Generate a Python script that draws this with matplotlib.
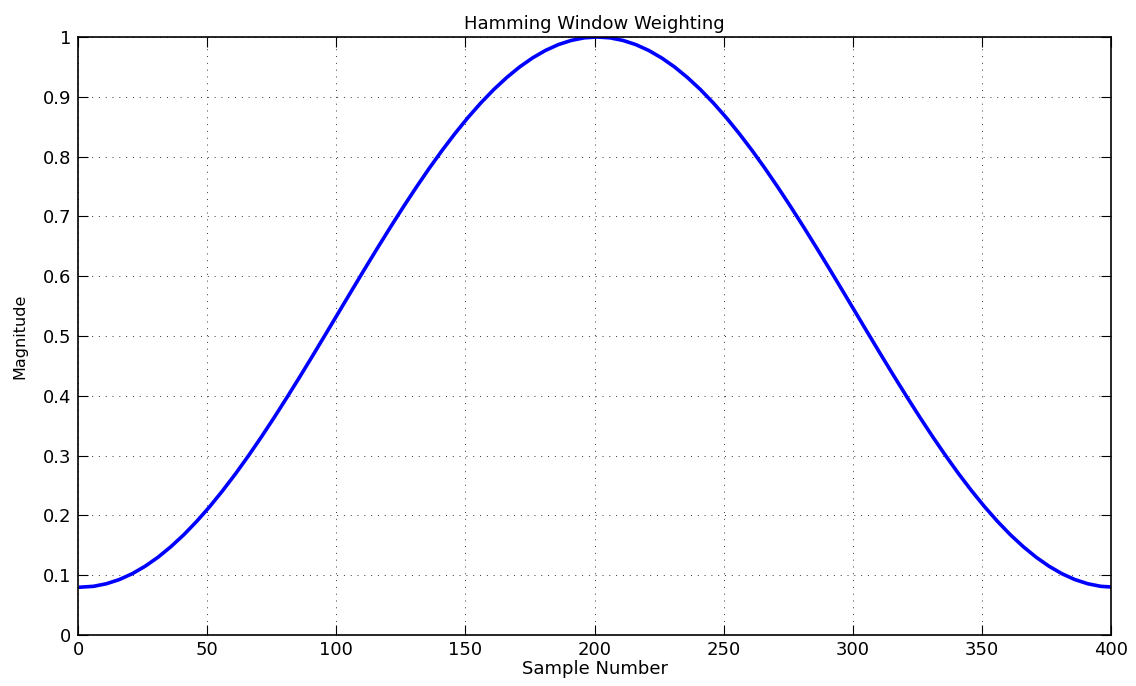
import matplotlib
matplotlib.use("Agg")
import matplotlib.pyplot as plt

# Sample positions (every 5 samples) and window magnitude
samples = list(range(1, 402, 5))
half = [0.0800, 0.0814, 0.0857, 0.0927, 0.1025, 0.1150, 0.1301, 0.1478,
        0.1678, 0.1902, 0.2147, 0.2413, 0.2696, 0.2997, 0.3312, 0.3640,
        0.3979, 0.4326, 0.4680, 0.5039, 0.5400, 0.5761, 0.6120, 0.6474,
        0.6821, 0.7160, 0.7488, 0.7804, 0.8104, 0.8387, 0.8653, 0.8898,
        0.9122, 0.9322, 0.9499, 0.9650, 0.9775, 0.9873, 0.9943, 0.9986]
magnitude = half + [1.0000] + half[::-1]

xticks = [0, 50, 100, 150, 200, 250, 300, 350, 400]
yticks = [0, 0.1, 0.2, 0.3, 0.4, 0.5, 0.6, 0.7, 0.8, 0.9, 1]
ytick_labels = ["0", "0.1", "0.2", "0.3", "0.4", "0.5", "0.6", "0.7", "0.8", "0.9", "1"]

plt.rcParams['font.family'] = ['DejaVu Sans']

fig = plt.figure(figsize=(11.36, 6.86), dpi=100)
ax = fig.add_axes([78 / 1136, 1 - 635 / 686, (1111 - 78) / 1136, (635 - 37) / 686])

ax.plot(samples, magnitude, color='#0000ff', linewidth=2.6)

ax.set_xlim(0, 400)
ax.set_ylim(0, 1)
ax.set_xticks(xticks)
ax.set_yticks(yticks)
ax.set_yticklabels(ytick_labels)
ax.tick_params(direction='in', length=7, width=0.8, labelsize=13, top=True, right=True)
ax.tick_params(axis='x', pad=4)
ax.tick_params(axis='y', pad=5)
ax.grid(True, color='#333333', linestyle=(0, (1, 6)), linewidth=0.7)
for s in ax.spines.values():
    s.set_linewidth(1.2)

ax.set_title("Hamming Window Weighting", fontsize=13, pad=6)
ax.set_xlabel("Sample Number", fontsize=13, labelpad=1)
ax.set_ylabel("Magnitude", fontsize=11.5, labelpad=11)

fig.savefig("out.png", dpi=100)
